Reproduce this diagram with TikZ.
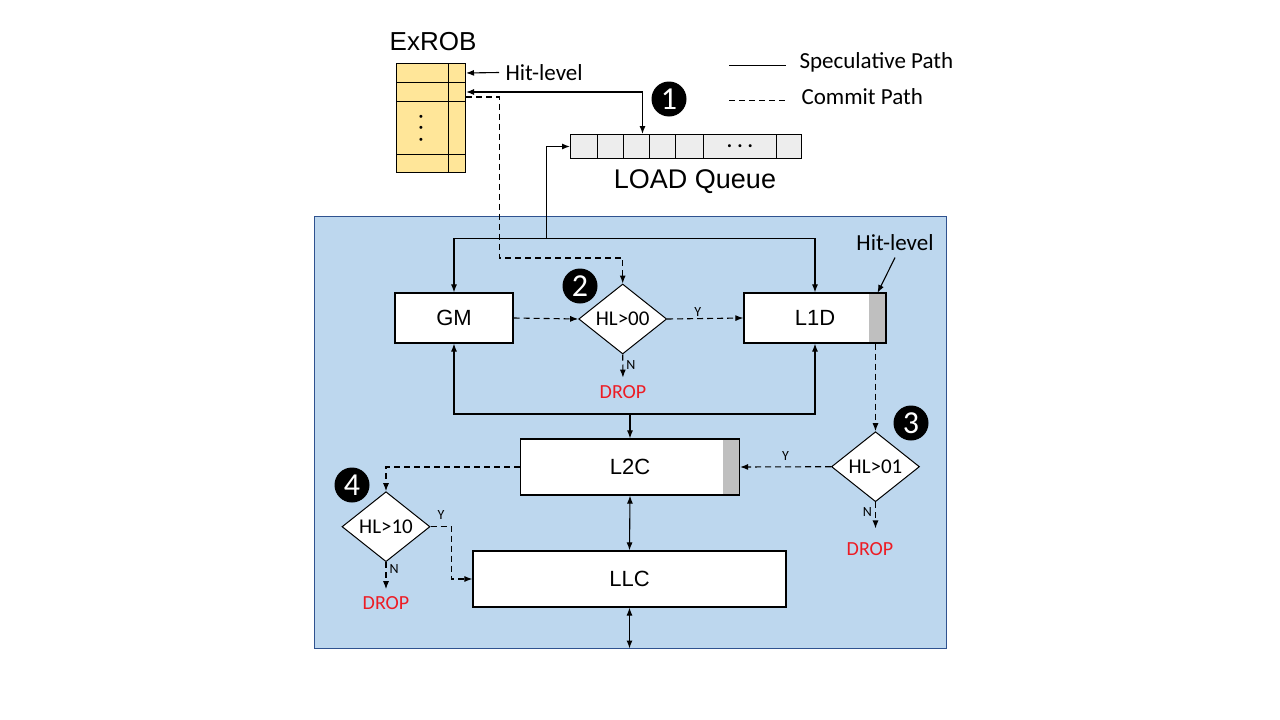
\documentclass[tikz,border=0pt]{standalone}
\usepackage{fontspec}
\setmainfont{Carlito}
\newfontfamily\arialf{Liberation Sans}
\usetikzlibrary{positioning,arrows.meta}
\usetikzlibrary{calc}
\usetikzlibrary{shapes}

\definecolor{panelblue}{RGB}{189,215,238}
\definecolor{paneledge}{RGB}{47,82,143}
\definecolor{robyellow}{RGB}{255,230,153}
\definecolor{qgray}{RGB}{237,237,237}
\definecolor{hlgray}{RGB}{191,191,191}
\definecolor{dropred}{RGB}{237,28,36}

\begin{document}
\begin{tikzpicture}[x=1pt,y=-1pt,>={Latex[length=8pt,width=6pt]},line width=1.1pt]

\tikzstyle{every node}=[inner sep=0pt]
\tikzstyle{robcell} = [rectangle, draw, fill=robyellow, anchor=north west, line width=1pt]
\tikzstyle{qcell} = [rectangle, draw, fill=qgray, anchor=north west, minimum height=24pt, line width=1pt]
\tikzstyle{cache} = [rectangle, draw, fill=white, line width=1.2pt, font=\arialf\fontsize{22}{26}\selectfont]
\tikzstyle{hlbar} = [rectangle, fill=hlgray, anchor=north east]
\tikzstyle{decision} = [diamond, draw, fill=white, line width=1pt, minimum width=88pt, minimum height=70pt, font=\fontsize{21}{24}\selectfont]
\tikzstyle{badge} = [circle, fill=black, text=white, minimum size=35pt, font=\fontsize{32}{32}\selectfont]
\tikzstyle{drop} = [text=dropred, font=\fontsize{20}{24}\selectfont]
\tikzstyle{yn} = [font=\fontsize{14}{16}\selectfont, inner sep=2pt]
\tikzstyle{lbl} = [font=\fontsize{23}{27}\selectfont]
\tikzstyle{commit} = [->, dash pattern=on 6pt off 4pt]

\useasboundingbox (0,0) rectangle (1280,720);

\node[rectangle, draw=paneledge, fill=panelblue, line width=1pt, minimum width=632pt, minimum height=432pt] (panel) at (630,432) {};

% ExROB
\node[font=\arialf\fontsize{26}{30}\selectfont] (robtitle) at (433,42) {ExROB};
\foreach \r/\t/\h in {1/63/19,2/82/19,3/101/53,4/154/18} {
    \node[robcell, minimum width=52pt, minimum height=\h pt] at (396,\t) (robl\r) {};
    \node[robcell, minimum width=17pt, minimum height=\h pt] at (448,\t) (robr\r) {};
}
\node[rotate=90, font=\bfseries\fontsize{20}{20}\selectfont] at ([xshift=-1.5pt]robl3.center) {.\hspace{6pt}.\hspace{6pt}.};
\node[lbl, anchor=west] (robhl) at (505,72.5) {Hit-level};
\draw[->] ([xshift=-6pt]robhl.west) -- (robr1.east);

% LOAD queue
\foreach \i/\l/\w in {0/570/27,1/597/26,2/623/26,3/649/26,4/675/28,5/703/73,6/776/25} {
    \node[qcell, minimum width=\w pt] at (\l,134) (q\i) {};
}
\node[font=\bfseries\fontsize{20}{20}\selectfont] at (q5) {.\hspace{5pt}.\hspace{5pt}.};
\node[font=\arialf\fontsize{27}{30}\selectfont] (lqtitle) at (695,182) {LOAD Queue};

% legend
\node[lbl, anchor=west] (speclbl) at (799,62) {Speculative Path};
\node[lbl, anchor=west] (commitlbl) at (801,97) {Commit Path};
\draw[line width=1pt] ([xshift=-70pt,yshift=-3pt]speclbl.west) -- ([xshift=-13pt,yshift=-3pt]speclbl.west);
\draw[line width=1pt, dash pattern=on 6pt off 4pt] ([xshift=-72pt,yshift=-3pt]commitlbl.west) -- ([xshift=-15pt,yshift=-3pt]commitlbl.west);

\foreach \n/\x/\y in {1/669/99,2/580/286,3/911/423,4/352/485} {
    \node[badge] (num\n) at (\x,\y) {\n};
}

% caches
\node[cache, minimum width=118pt, minimum height=50pt] (gm) at (454,318) {GM};
\node[cache, minimum width=142pt, minimum height=50pt] (l1d) at (815,318) {L1D};
\node[hlbar, minimum width=16pt, minimum height=48.8pt] (l1dhl) at ([xshift=-0.6pt,yshift=-0.6pt]l1d.north east) {};
\node[cache, minimum width=219pt, minimum height=56pt] (l2c) at (630,467) {L2C};
\node[hlbar, minimum width=16pt, minimum height=54.8pt] (l2chl) at ([xshift=-0.6pt,yshift=-0.6pt]l2c.north east) {};
\node[cache, minimum width=313pt, minimum height=56pt] (llc) at (629.5,579) {LLC};

\node[decision] (d00) at (622.7,319) {HL>00};
\node[decision] (d01) at (875.5,466.7) {HL>01};
\node[decision] (d10) at (386,526.7) {HL>10};

\node[drop] (drop00) at (623,391.7) {DROP};
\node[drop] (drop01) at (870,548.6) {DROP};
\node[drop] (drop10) at (386,603.3) {DROP};

\node[lbl] (l1dhit) at (895,243) {Hit-level};
\draw[->] ([yshift=-6pt]l1dhit.south) -- (l1dhl.north);

\coordinate (topbus) at (546.7,238.3);
\coordinate (botbus) at (630,414);
\coordinate (robjog) at (499.5,258);

% speculative path
\draw[<->] (robr2.east) -| ([xshift=6pt]q2.north);
\draw[->] (topbus) |- (q0.west);
\draw[->] (topbus) -| (gm.north);
\draw[->] (topbus) -| (l1d.north);
\draw[->] (botbus) -| (gm.south);
\draw[->] (botbus) -| (l1d.south);
\draw[->] (botbus) -- (l2c.north);
\draw[<->] (l2c.south) -- (llc.north);
\draw[<->] (llc.south) -- (llc.south |- panel.south);

% commit path
\draw[commit] ([yshift=-5pt]robr2.east) -| (robjog) -| (d00.north);
\draw[commit] (gm.east) -- (d00.west);
\draw[commit] (d00.east) -- (l1d.west) node[yn, pos=0.4, above=0pt] {Y};
\draw[commit, shorten >=7pt] (d00.south) -- (drop00.north) node[yn, pos=0.35, right=1pt] {N};
\draw[commit] (l1d.south -| d01.north) -- (d01.north);
\draw[commit] (d01.west) -- (l2c.east) node[yn, midway, above=4pt] {Y};
\draw[commit, shorten >=13pt] (d01.south) -- (d01.south |- drop01.north) node[yn, pos=0.25, left=1pt] {N};
\draw[commit] (l2c.west) -| (d10.north);
\draw[commit] (d10.east) -- ++(21,0) node[yn, midway, above=5pt] {Y} |- (llc.west);
\draw[commit, shorten >=7pt] (d10.south) -- (drop10.north) node[yn, pos=0.2, right=1pt] {N};

\end{tikzpicture}
\end{document}
